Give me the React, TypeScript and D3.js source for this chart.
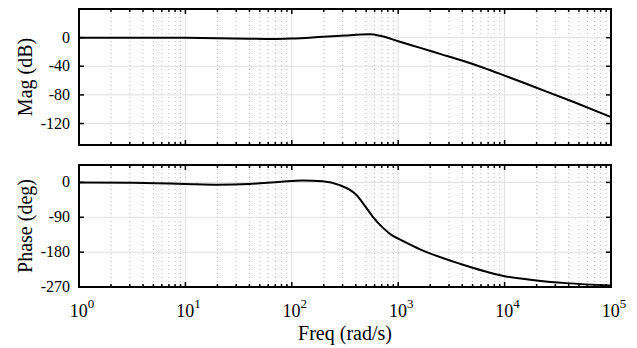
import React from 'react';
import * as d3 from 'd3';

// log10 of frequency (rad/s)
const logFreq = [0, 0.5, 1, 1.3, 1.6, 1.82, 2.0, 2.29, 2.5, 2.65, 2.74, 2.83, 3.0, 3.2, 3.4, 3.6, 3.8, 4.0, 4.3, 4.65, 5.0];
const magDb = [0, 0, -0.3, -0.8, -1.6, -2.0, -1.3, 1.2, 3.0, 4.3, 4.6, 2.5, -5, -14, -23, -32, -42, -53, -70, -90, -111];

const phaseLogFreq = [0, 0.5, 1, 1.3, 1.6, 1.9, 2.1, 2.29, 2.45, 2.55, 2.61, 2.68, 2.76, 2.86, 2.95, 3.0, 3.2, 3.58, 4.0, 4.3, 4.58, 5.0];
const phaseDeg = [0, -1, -4, -6, -4, 2, 5, 3, -7, -20, -33, -58, -88, -118, -138, -145, -172, -210, -242, -253, -260, -266];

const magTicks = [0, -40, -80, -120];
const phaseTicks = [0, -90, -180, -270];
const decades = [0, 1, 2, 3, 4, 5];

const W = 637;
const H = 348;
const left = 79;
const right = 611;
const ff = "'Liberation Serif'";

const x = d3.scaleLog().domain([1, 1e5]).range([left, right]);

const minors: number[] = [];
decades.slice(0, -1).forEach(e => {
  for (let k = 2; k <= 9; k++) minors.push(k * Math.pow(10, e));
});

type PanelProps = {
  top: number; bottom: number; domain: [number, number]; ticks: number[];
  xs: number[]; ys: number[]; label: string; labelY: number;
};

const Panel = ({ top, bottom, domain, ticks, xs, ys, label, labelY }: PanelProps) => {
  const y = d3.scaleLinear().domain(domain).range([bottom, top]);
  const line = d3.line<number>()
    .x((d, i) => x(Math.pow(10, xs[i])))
    .y(d => y(d))
    .curve(d3.curveMonotoneX);
  const tl = 5;
  const majors = decades.map(d => Math.pow(10, d));

  return (
    <g>
      {minors.map(m => (
        <line key={'mn' + m} x1={x(m)} x2={x(m)} y1={top} y2={bottom}
          stroke="#bdbdbd" strokeWidth={1} strokeDasharray="1,3" />
      ))}
      {majors.slice(1, -1).map(m => (
        <line key={'mj' + m} x1={x(m)} x2={x(m)} y1={top} y2={bottom} stroke="#e0e0e0" strokeWidth={1} />
      ))}
      {ticks.map(t => (
        <line key={'h' + t} x1={left} x2={right} y1={y(t)} y2={y(t)} stroke="#e0e0e0" strokeWidth={1} />
      ))}
      <path d={line(ys) || ''} fill="none" stroke="#000" strokeWidth={2} />
      <g stroke="#000" strokeWidth={1.5}>
        {ticks.map(t => (
          <g key={'yt' + t}>
            <line x1={left} x2={left + tl} y1={y(t)} y2={y(t)} />
            <line x1={right} x2={right - tl} y1={y(t)} y2={y(t)} />
          </g>
        ))}
        {[...majors, ...minors].map(v => {
          const len = minors.includes(v) ? 3 : tl;
          return (
            <g key={'xt' + v}>
              <line x1={x(v)} x2={x(v)} y1={top} y2={top + len} />
              <line x1={x(v)} x2={x(v)} y1={bottom} y2={bottom - len} />
            </g>
          );
        })}
      </g>
      <rect x={left} y={top} width={right - left} height={bottom - top} fill="none" stroke="#000" strokeWidth={2} />
      {ticks.map(t => (
        <text key={'yl' + t} x={left - 9} y={y(t) + 5} textAnchor="end"
          style={{ fontFamily: ff, fontSize: 16 }}>{t}</text>
      ))}
      <text transform={`translate(32,${labelY}) rotate(-90)`} textAnchor="middle"
        style={{ fontFamily: ff, fontSize: 20 }}>{label}</text>
    </g>
  );
};

const App = () => (
  <svg width={W} height={H} style={{ marginLeft: -8, marginTop: -8, display: 'block' }}>
    <Panel top={9} bottom={145} domain={[-150, 40]} ticks={magTicks} xs={logFreq} ys={magDb} label="Mag (dB)" labelY={77} />
    <Panel top={165} bottom={287} domain={[-270, 45]} ticks={phaseTicks} xs={phaseLogFreq} ys={phaseDeg} label="Phase (deg)" labelY={226} />
    {decades.map(e => (
      <text key={'xl' + e} x={x(Math.pow(10, e)) + 3} y={317} textAnchor="middle"
        style={{ fontFamily: ff, fontSize: 18 }}>
        <tspan>10</tspan>
        <tspan dy={-9} style={{ fontSize: 13 }}>{e}</tspan>
      </text>
    ))}
    <text x={(left + right) / 2} y={340} textAnchor="middle"
      style={{ fontFamily: ff, fontSize: 20 }}>Freq (rad/s)</text>
  </svg>
);

export default App;
